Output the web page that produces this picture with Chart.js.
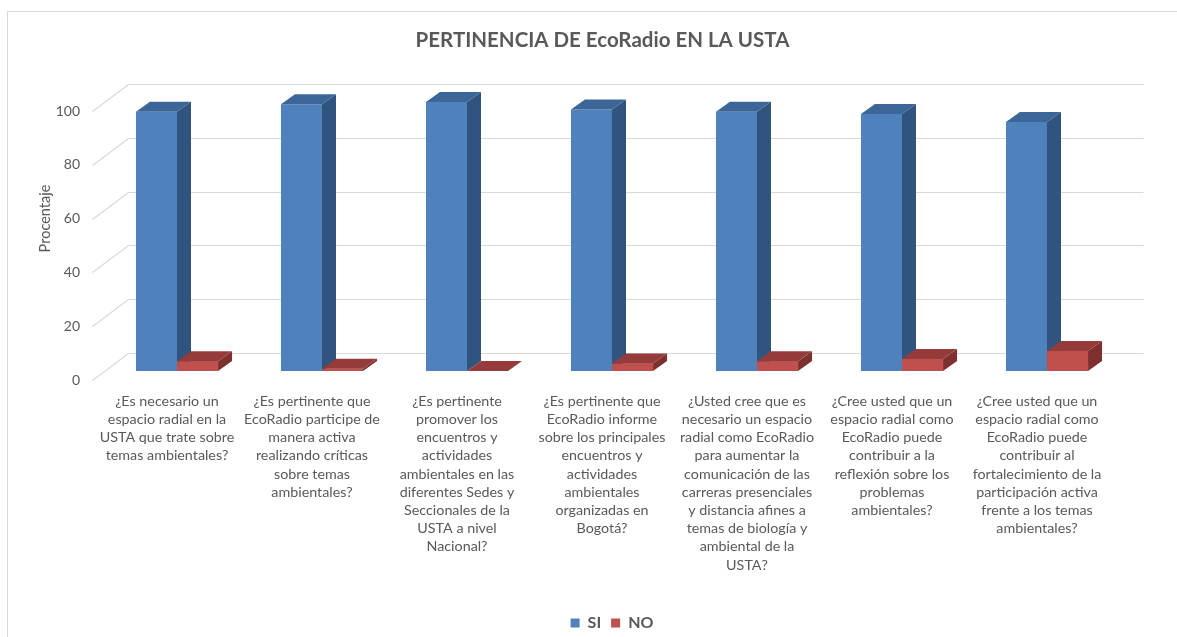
<!DOCTYPE html>
<html><head><meta charset="utf-8">
<script src="https://cdn.jsdelivr.net/npm/chart.js@4.4.1/dist/chart.umd.min.js"></script>
<style>html,body{margin:0;padding:0;background:#fff;}#wrap{width:1177px;height:637px;position:relative;}</style>
</head><body><div id="wrap"><canvas id="c" width="1177" height="637"></canvas></div>
<script>
const categories = [
  ['¿Es necesario un','espacio radial en la','USTA que trate sobre','temas ambientales?'],
  ['¿Es pertinente que','EcoRadio participe de','manera activa','realizando críticas','sobre temas','ambientales?'],
  ['¿Es pertinente','promover los','encuentros y','actividades','ambientales en las','diferentes Sedes y','Seccionales de la','USTA a nivel','Nacional?'],
  ['¿Es pertinente que','EcoRadio informe','sobre los principales','encuentros y','actividades','ambientales','organizadas en','Bogotá?'],
  ['¿Usted cree que es','necesario un espacio','radial como EcoRadio','para aumentar la','comunicación de las','carreras presenciales','y distancia afines a','temas de biología y','ambiental de la','USTA?'],
  ['¿Cree usted que un','espacio radial como','EcoRadio puede','contribuir a la','reflexión sobre los','problemas','ambientales?'],
  ['¿Cree usted que un','espacio radial como','EcoRadio puede','contribuir al','fortalecimiento de la','participación activa','frente a los temas','ambientales?']
];
const siValues = [96.4, 99.2, 100, 97.2, 96.4, 95.5, 92.6];
const noValues = [3.6, 0.8, 0, 2.8, 3.6, 4.5, 7.4];
const yTicks = [0, 20, 40, 60, 80, 100];
const titleText = 'PERTINENCIA DE EcoRadio EN LA USTA';
const yTitle = 'Procentaje';

const FONT = 'Lato';
const GRAY = '#595959';
const GRID = '#D9D9D9';
const DX = 14, DY = -10;          // bar depth
const WDX = 24, WDY = -18;        // back wall offset from bar front
const FDX = -12, FDY = 9;         // front plane offset from bar front

const faces = [
  {front:'#4F81BD', side:'#31547E', top:'#3C6697'},
  {front:'#C0504D', side:'#7E302E', top:'#953C3A'}
];

function poly(ctx, pts, color){
  ctx.beginPath();
  ctx.moveTo(pts[0][0], pts[0][1]);
  for (let i=1;i<pts.length;i++) ctx.lineTo(pts[i][0], pts[i][1]);
  ctx.closePath();
  ctx.fillStyle = color; ctx.fill();
}

const deco = {
  id:'deco',
  beforeDraw(chart){
    const ctx = chart.ctx;
    ctx.save();
    ctx.fillStyle = '#fff';
    ctx.fillRect(0,0,chart.width,chart.height);
    ctx.strokeStyle = GRID; ctx.lineWidth = 1;
    ctx.strokeRect(7.5, 11.5, chart.width + 20, chart.height + 20);
    ctx.restore();
  },
  beforeDatasetsDraw(chart){
    const {ctx, chartArea, scales:{y}} = chart;
    ctx.save();
    ctx.strokeStyle = GRID; ctx.lineWidth = 1.2;
    yTicks.forEach(v => {
      const yb = Math.round(y.getPixelForValue(v) + WDY) + 0.5;
      ctx.beginPath();
      ctx.moveTo(chartArea.left + WDX, yb);
      ctx.lineTo(chartArea.right + WDX, yb);
      ctx.stroke();
      ctx.beginPath();
      ctx.moveTo(chartArea.left + FDX, yb - WDY + FDY);
      ctx.lineTo(chartArea.left + WDX, yb);
      ctx.stroke();
    });
    // axis title
    ctx.translate(45, (y.getPixelForValue(0) + y.getPixelForValue(100))/2 + WDY);
    ctx.rotate(-Math.PI/2);
    ctx.fillStyle = GRAY;
    ctx.font = '14.5px ' + FONT;
    ctx.textAlign = 'center'; ctx.textBaseline = 'middle';
    ctx.fillText(yTitle, 0, 0);
    ctx.restore();
  },
  afterDatasetsDraw(chart){
    const ctx = chart.ctx;
    const metas = [chart.getDatasetMeta(0), chart.getDatasetMeta(1)];
    ctx.save();
    for (let i=0;i<categories.length;i++){
      metas.forEach((m, d) => {
        const el = m.data[i];
        const p = el.getProps(['x','y','base','width'], true);
        const l = p.x - p.width/2, r = p.x + p.width/2;
        const t = Math.min(p.y, p.base), b = p.base;
        const c = faces[d];
        if (d === 1) { ctx.fillStyle = c.front; ctx.fillRect(l, t, r-l, b-t); }
        poly(ctx, [[r,t],[r+DX,t+DY],[r+DX,b+DY],[r,b]], c.side);
        poly(ctx, [[l,t],[r,t],[r+DX,t+DY],[l+DX,t+DY]], c.top);
      });
    }
    ctx.restore();
  }
};

new Chart(document.getElementById('c'), {
  type:'bar',
  data:{
    labels: categories,
    datasets:[
      {label:'SI', data:siValues, backgroundColor:faces[0].front, categoryPercentage:0.566, barPercentage:1},
      {label:'NO', data:noValues, backgroundColor:faces[1].front, categoryPercentage:0.566, barPercentage:1}
    ]
  },
  options:{
    responsive:false, animation:false, devicePixelRatio:1,
    layout:{padding:{left:28, right:0, top:0, bottom:-4}},
    plugins:{
      title:{display:true, text:titleText, color:GRAY, font:{family:FONT, size:20.5, weight:'bold', lineHeight:1.2}, padding:{top:27.7, bottom:49.7}},
      legend:{position:'bottom', fullSize:false, labels:{boxWidth:9, boxHeight:9, color:GRAY, padding:10, font:{family:FONT, size:16, weight:'bold'}}},
      tooltip:{enabled:false}
    },
    scales:{
      x:{
        grid:{display:false, drawTicks:false}, border:{display:false},
        ticks:{color:GRAY, font:{family:FONT, size:14.3, lineHeight:'18.2px'}, padding:21, labelOffset:-10, maxRotation:0, minRotation:0, autoSkip:false},
        afterFit(s){ s.height = 234; }
      },
      y:{
        min:0, max:100,
        grid:{display:false, drawTicks:false}, border:{display:false},
        ticks:{color:GRAY, font:{family:FONT, size:14}, padding:24.5, labelOffset:9},
        afterBuildTicks(s){ s.ticks = yTicks.map(v => ({value:v})); },
        afterFit(s){ s.width = 76.5; }
      },
      yR:{
        position:'right', display:true,
        grid:{display:false, drawTicks:false}, border:{display:false},
        ticks:{display:false},
        afterFit(s){ s.width = 57.5; }
      }
    }
  },
  plugins:[deco]
});
</script>
</body></html>
